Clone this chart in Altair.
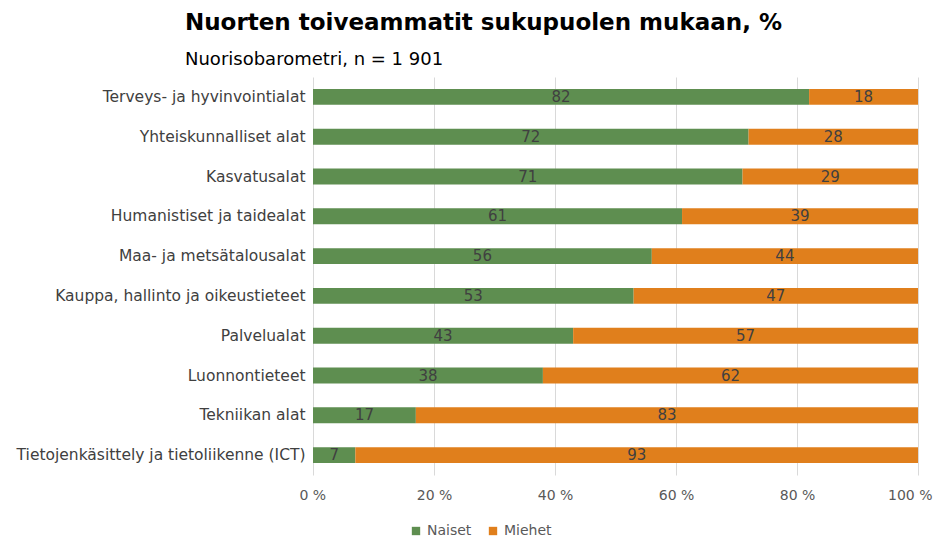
import altair as alt
import pandas as pd

categories = [
    "Terveys- ja hyvinvointialat",
    "Yhteiskunnalliset alat",
    "Kasvatusalat",
    "Humanistiset ja taidealat",
    "Maa- ja metsätalousalat",
    "Kauppa, hallinto ja oikeustieteet",
    "Palvelualat",
    "Luonnontieteet",
    "Tekniikan alat",
    "Tietojenkäsittely ja tietoliikenne (ICT)",
]
naiset = [82, 72, 71, 61, 56, 53, 43, 38, 17, 7]
miehet = [18, 28, 29, 39, 44, 47, 57, 62, 83, 93]
series = ["Naiset", "Miehet"]
colors = ["#5E8E50", "#E07F1C"]

rows = []
for c, n, m in zip(categories, naiset, miehet):
    rows.append({"ala": c, "sukupuoli": "Naiset", "arvo": n, "ord": 0})
    rows.append({"ala": c, "sukupuoli": "Miehet", "arvo": m, "ord": 1})
df = pd.DataFrame(rows)

FONT = "DejaVu Sans"

base = alt.Chart(df).transform_stack(
    stack="arvo", groupby=["ala"], as_=["x0", "x1"], sort=[alt.SortField("ord")]
).transform_calculate(
    mid="(datum.x0 + datum.x1) / 2"
)

y = alt.Y("ala:N", sort=categories, title=None,
          scale=alt.Scale(paddingInner=0.6, paddingOuter=0.3),
          axis=alt.Axis(labelFont=FONT, labelFontSize=15.5, labelColor="#404040",
                        ticks=False, domain=False, labelPadding=8, labelLimit=400))

bars = base.mark_bar().encode(
    x=alt.X("x0:Q", scale=alt.Scale(domain=[0, 100]), title=None,
            axis=alt.Axis(values=[0, 20, 40, 60, 80, 100], labelExpr="datum.value + ' %'",
                          labelFont=FONT, labelFontSize=14, labelColor="#595959",
                          grid=True, gridColor="#d9d9d9", ticks=False, domain=False,
                          labelPadding=13, labelFlush=True, labelFlushOffset=14)),
    x2="x1:Q",
    y=y,
    color=alt.Color("sukupuoli:N", scale=alt.Scale(domain=series, range=colors),
                    legend=alt.Legend(title=None, orient="none", direction="horizontal",
                                      legendX=96, legendY=447, symbolType="square",
                                      symbolSize=70, symbolStrokeWidth=0,
                                      labelFont=FONT, labelFontSize=14, labelColor="#595959",
                                      columnPadding=14)),
)

labels = base.mark_text(font=FONT, fontSize=15, color="#404040").encode(
    x=alt.X("mid:Q"),
    y=alt.Y("ala:N", sort=categories),
    text=alt.Text("arvo:Q"),
)

chart = alt.layer(bars, labels).properties(
    width=605,
    height=398,
    autosize=alt.AutoSizeParams(type="none"),
    padding={"left": 305, "top": 69, "right": 16, "bottom": 62},
    title=alt.TitleParams(
        text="Nuorten toiveammatit sukupuolen mukaan, %",
        subtitle="Nuorisobarometri, n = 1 901",
        anchor="start", frame="group", dx=-128,
        font=FONT, fontSize=23, fontWeight="bold", color="#000000",
        subtitleFont=FONT, subtitleFontSize=18, subtitleColor="#000000",
        subtitlePadding=16, offset=8,
    ),
).configure_view(stroke=None)

chart.save("out.html", embed_options={"renderer": "svg", "actions": False})
